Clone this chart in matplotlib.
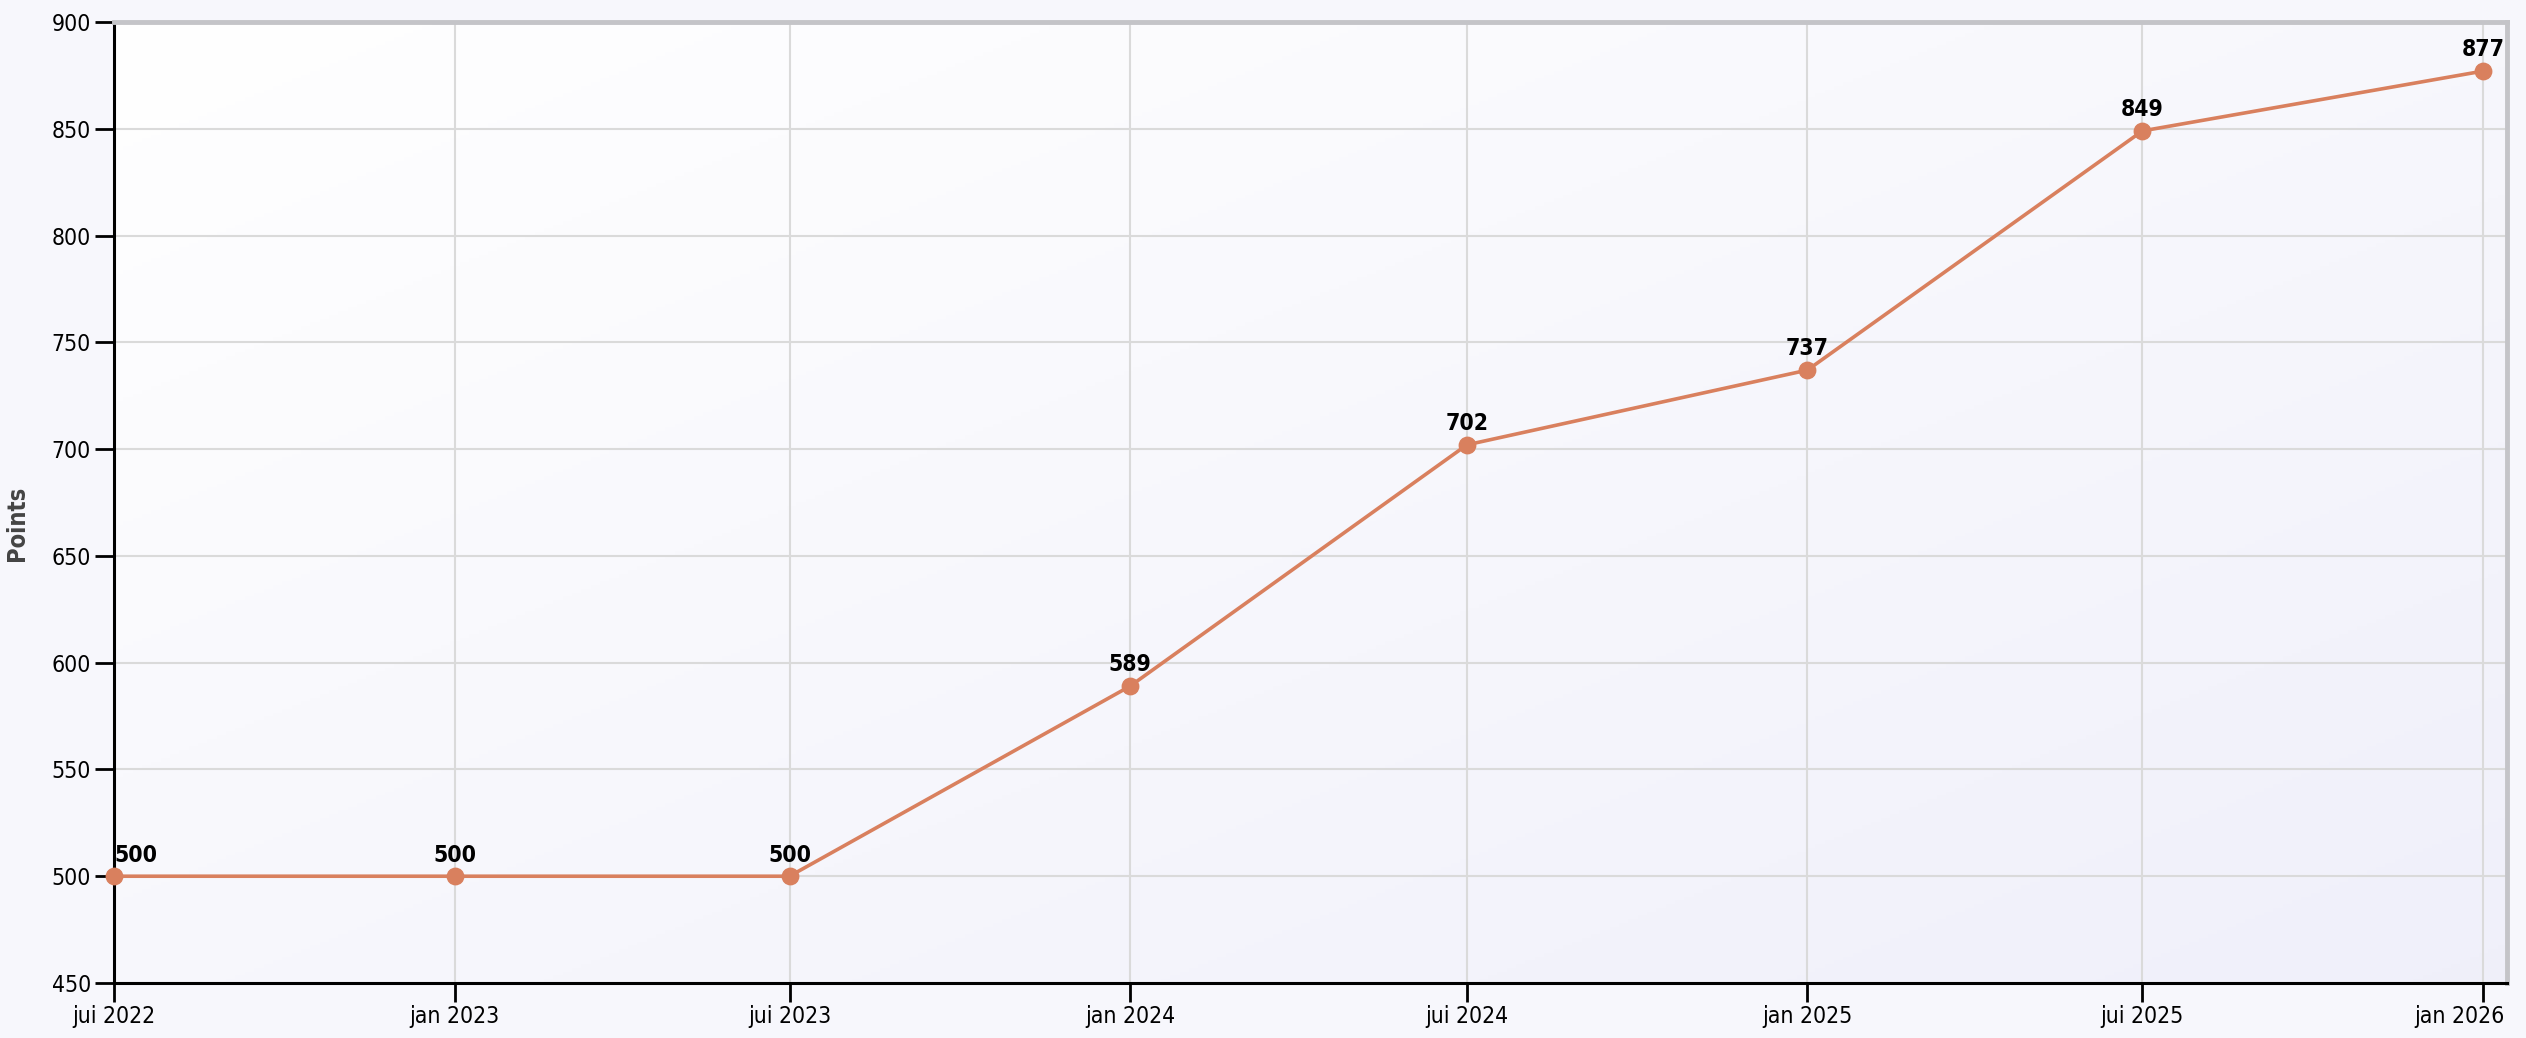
import matplotlib
matplotlib.use("Agg")
import matplotlib.pyplot as plt
import matplotlib.transforms as mtransforms
import numpy as np
from datetime import datetime, timedelta

dates = ["2022-07-01", "2023-01-01", "2023-07-01", "2024-01-01",
         "2024-07-01", "2025-01-01", "2025-07-01", "2026-01-01"]
points = [500, 500, 500, 589, 702, 737, 849, 877]
tick_labels = ["jui 2022", "jan 2023", "jui 2023", "jan 2024",
               "jui 2024", "jan 2025", "jui 2025", "jan 2026"]
y_ticks = [450, 500, 550, 600, 650, 700, 750, 800, 850, 900]

plt.rcParams['font.family'] = ['DejaVu Sans']
plt.rcParams['font.stretch'] = 'condensed'

x = [datetime.strptime(d, "%Y-%m-%d") for d in dates]

fig = plt.figure(figsize=(25.26, 10.38), dpi=100)
fig.patch.set_facecolor('#f7f7fc')
ax = fig.add_axes([114/2526, 1-983/1038, 2393/2526, (983-22)/1038])
ax.set_facecolor('none')

# gradient background inside the plot (white top-left -> lavender bottom-right)
grad = np.linspace(0, 1, 256)
gx, gy = np.meshgrid(grad, grad)
g = (gx + gy) / 2
c0 = np.array([1.0, 1.0, 1.0])
c1 = np.array([0.94, 0.94, 0.98])
img = c0[None, None, :] * (1 - g[..., None]) + c1[None, None, :] * g[..., None]
ax.imshow(img, extent=[0, 1, 0, 1], transform=ax.transAxes, aspect='auto',
          zorder=0, origin='upper')

ax.set_xlim(x[0], x[-1] + timedelta(days=13))
ax.set_ylim(450, 900)

ax.grid(True, color='#dadada', linewidth=1.5, zorder=1)
ax.set_axisbelow(True)

ax.plot(x, points, color='#d9805e', linewidth=2.6, zorder=3)
ax.scatter(x, points, s=140, color='#d9805e', zorder=4, clip_on=False)

for i, (xi, yi) in enumerate(zip(x, points)):
    ha = 'left' if i == 0 else 'center'
    ax.annotate(str(yi), (xi, yi), xytext=(0, 7), textcoords='offset points',
                ha=ha, va='bottom', fontsize=16.5, fontweight='bold',
                color='black', zorder=5)

ax.set_xticks(x)
ax.set_xticklabels(tick_labels)
ax.set_yticks(y_ticks)
ax.tick_params(axis='both', labelsize=16.5, length=13.5, width=2, color='black',
               labelcolor='black')
ax.tick_params(axis='x', pad=2)
ax.tick_params(axis='y', pad=3)

# keep the last x label inside the plot area, as in the reference
last = ax.get_xticklabels()[-1]
last.set_horizontalalignment('right')
last.set_transform(last.get_transform() +
                   mtransforms.ScaledTranslation(22/100, 0, fig.dpi_scale_trans))

for s in ['left', 'bottom']:
    ax.spines[s].set_color('black')
    ax.spines[s].set_linewidth(2.2)
for s in ['top', 'right']:
    ax.spines[s].set_color('#c4c4c8')
    ax.spines[s].set_linewidth(3.5)

fig.text(17/2526, 1 - 523/1038, "Points", rotation=90, ha='center', va='center',
         fontsize=17, fontweight='bold', color='#444444')

fig.savefig("out.png", dpi=100, facecolor=fig.get_facecolor())
